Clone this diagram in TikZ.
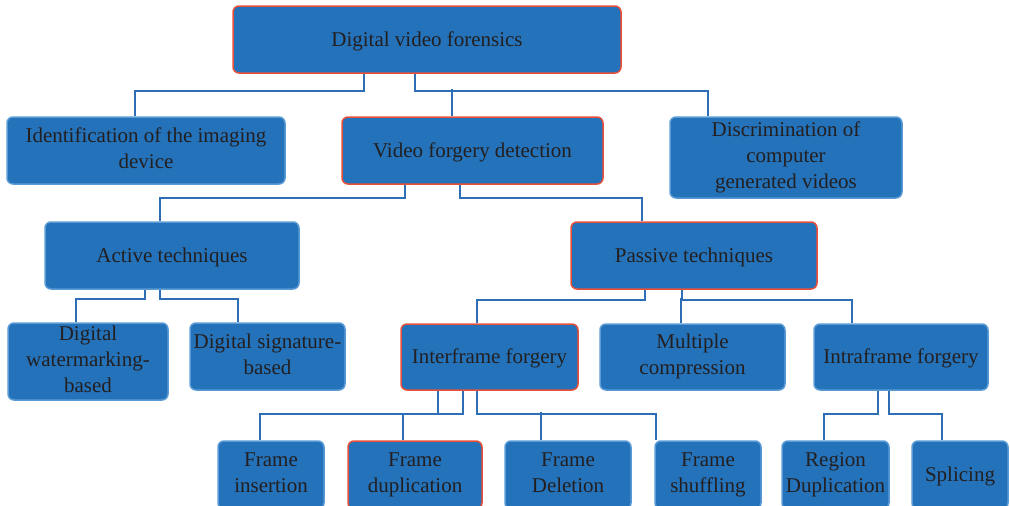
\documentclass[tikz,border=0pt]{standalone}
\usepackage{fontspec}
\setmainfont{Liberation Serif}
\definecolor{boxfill}{HTML}{2472B9}
\definecolor{boxedge}{HTML}{5B9BD5}
\definecolor{rededge}{HTML}{E8503A}
\definecolor{txt}{HTML}{231F20}
\definecolor{linec}{HTML}{2E6EB5}
\tikzset{
  box/.style={draw=boxedge, fill=boxfill, line width=1.5pt, rounded corners=6pt,
    inner sep=0pt, align=center, text=txt,
    font=\fontsize{21}{26}\selectfont,
    execute at begin node={\rule{0pt}{18pt}}, execute at end node={\rule[-5pt]{0pt}{5pt}}},
  redbox/.style={box, draw=rededge},
  conn/.style={draw=linec, line width=1.5pt},
}
\begin{document}
\begin{tikzpicture}[x=1pt,y=-1pt]
\useasboundingbox (0,0) rectangle (1010,506);
\clip (0,0) rectangle (1010,506);
% row 1
\node[redbox, minimum width=388pt, minimum height=67pt] (top) at (427,39.5) {Digital video forensics};
% row 2
\node[box, minimum width=278pt, minimum height=67pt] (ident) at (146,150.5) {Identification of the imaging\\device};
\node[redbox, minimum width=261pt, minimum height=67pt] (vfd) at (472.5,150.5) {Video forgery detection};
\node[box, minimum width=232pt, minimum height=81pt] (disc) at (786,157.5) {Discrimination of\\computer\\generated videos};
% row 3
\node[box, minimum width=254pt, minimum height=67pt] (active) at (172,255.5) {Active techniques};
\node[redbox, minimum width=246pt, minimum height=67pt] (passive) at (694,255.5) {Passive techniques};
% row 4
\node[box, minimum width=160pt, minimum height=77pt] (water) at (88,361.5) {Digital\\watermarking-\\based};
\node[box, minimum width=155pt, minimum height=67pt] (sig) at (267.5,356.5) {Digital signature-\\based};
\node[redbox, minimum width=177pt, minimum height=66pt] (inter) at (489.5,357) {Interframe forgery};
\node[box, minimum width=185pt, minimum height=66pt] (mult) at (692.5,357) {Multiple\\compression};
\node[box, minimum width=174pt, minimum height=66pt] (intra) at (901,357) {Intraframe forgery};
% row 5
\node[box, minimum width=106pt, minimum height=68pt] (ins) at (271,475) {Frame\\insertion};
\node[redbox, minimum width=134pt, minimum height=68pt] (dup) at (415,475) {Frame\\duplication};
\node[box, minimum width=126pt, minimum height=68pt] (del) at (568,475) {Frame\\Deletion};
\node[box, minimum width=106pt, minimum height=68pt] (shuf) at (708,475) {Frame\\shuffling};
\node[box, minimum width=107pt, minimum height=68pt] (reg) at (835.5,475) {Region\\Duplication};
\node[box, minimum width=96pt, minimum height=68pt] (spl) at (960,475) {Splicing};
% connectors
\draw[conn] ([xshift=-63pt]top.south) -- ++(0,17) -| ([xshift=-11pt]ident.north);
\draw[conn] ([xshift=-12pt]top.south) -- ++(0,17) -| ([xshift=-78pt]disc.north);
\draw[conn] ([xshift=-20.5pt]vfd.north) -- ++(0,-27);
\draw[conn] ([xshift=-67.5pt]vfd.south) -- ++(0,13) -| ([xshift=-12pt]active.north);
\draw[conn] ([xshift=-12.5pt]vfd.south) -- ++(0,13) -| ([xshift=-52pt]passive.north);
\draw[conn] ([xshift=-27pt]active.south) -- ++(0,9) -| ([xshift=-12pt]water.north);
\draw[conn] ([xshift=-12pt]active.south) -- ++(0,9) -| ([xshift=-29.5pt]sig.north);
\draw[conn] ([xshift=-49pt]passive.south) -- ++(0,10) -| ([xshift=-12.5pt]inter.north);
\draw[conn] ([xshift=-12pt]passive.south) -- ++(0,10) -| ([xshift=-49pt]intra.north);
\draw[conn] ([xshift=-11.5pt]mult.north) -- ++(0,-25);
\draw[conn] ([xshift=-51.5pt]inter.south) -- ++(0,23) -| ([xshift=-11pt]ins.north);
\draw[conn] ([xshift=-26.5pt]inter.south) -- ++(0,23) -| ([xshift=-12pt]dup.north);
\draw[conn] ([xshift=-12.5pt]inter.south) -- ++(0,23) -| ([xshift=-52pt]shuf.north);
\draw[conn] ([xshift=-27pt]del.north) -- ++(0,-28);
\draw[conn] ([xshift=-23pt]intra.south) -- ++(0,23) -| ([xshift=-11.5pt]reg.north);
\draw[conn] ([xshift=-12pt]intra.south) -- ++(0,23) -| ([xshift=-18pt]spl.north);
\end{tikzpicture}
\end{document}
